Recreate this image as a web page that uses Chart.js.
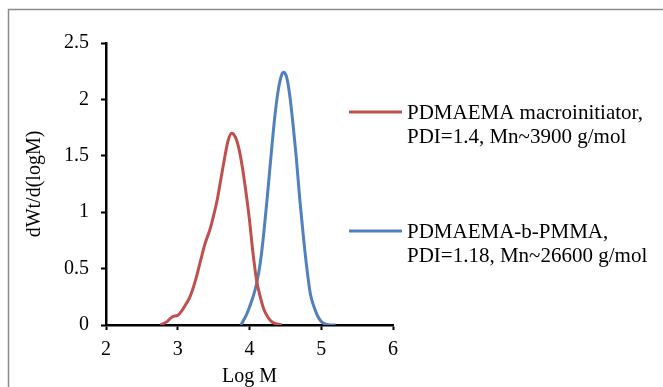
<!DOCTYPE html>
<html>
<head>
<meta charset="utf-8">
<script src="https://cdn.jsdelivr.net/npm/chart.js@4/dist/chart.umd.min.js"></script>
<style>
  html, body { margin: 0; padding: 0; background: #fff; }
  #wrap { position: relative; width: 663px; height: 387px; }
</style>
</head>
<body>
<div id="wrap"><canvas id="myChart" width="663" height="387"></canvas></div>
<script>
/* globals Chart:false */

// Data
var redLogM = [2.76, 2.85, 2.9, 2.93, 3.0, 3.05, 3.1, 3.17, 3.24, 3.31, 3.38, 3.45, 3.5, 3.55, 3.6, 3.65, 3.7, 3.75, 3.8, 3.85, 3.9, 3.95, 4.0, 4.05, 4.1, 4.15, 4.2, 4.25, 4.3, 4.35, 4.45];
var redVal = [0, 0.03, 0.06, 0.075, 0.085, 0.12, 0.17, 0.25, 0.38, 0.55, 0.72, 0.85, 0.97, 1.11, 1.29, 1.47, 1.63, 1.70, 1.67, 1.57, 1.40, 1.18, 0.93, 0.63, 0.39, 0.25, 0.14, 0.075, 0.035, 0.015, 0];
var blueLogM = [3.88, 3.95, 4.0, 4.05, 4.1, 4.15, 4.2, 4.25, 4.3, 4.35, 4.4, 4.45, 4.48, 4.52, 4.56, 4.6, 4.65, 4.7, 4.75, 4.8, 4.85, 4.9, 4.95, 5.0, 5.05, 5.1, 5.2];
var blueVal = [0, 0.08, 0.16, 0.25, 0.37, 0.55, 0.82, 1.15, 1.5, 1.83, 2.08, 2.22, 2.24, 2.19, 2.04, 1.82, 1.5, 1.12, 0.79, 0.5, 0.27, 0.16, 0.08, 0.03, 0.01, 0.003, 0];
var seriesLabels = [
  ['PDMAEMA macroinitiator,', 'PDI=1.4, Mn~3900 g/mol'],
  ['PDMAEMA-b-PMMA,', 'PDI=1.18, Mn~26600 g/mol']
];
var xTicks = [2, 3, 4, 5, 6];
var yTicks = [0, 0.5, 1, 1.5, 2, 2.5];

(function () {
  'use strict'

  var FONT = '"Liberation Serif", "Times New Roman", serif'

  function toPoints (xs, ys) {
    return xs.map(function (x, i) { return { x: x, y: ys[i] } })
  }

  // grey frame round the whole chart
  var framePlugin = {
    id: 'frame',
    beforeDraw: function (chart) {
      var c = chart.ctx
      c.save()
      c.fillStyle = '#fff'
      c.fillRect(0, 0, chart.width, chart.height)
      c.strokeStyle = '#8a8a8a'
      c.lineWidth = 1.5
      c.strokeRect(8.5, 9.5, chart.width + 20, chart.height + 20)
      c.restore()
    }
  }

  // two-line legend on the right, like the original
  var sideLegend = {
    id: 'sideLegend',
    afterDraw: function (chart) {
      var c = chart.ctx
      var rows = [112, 231]
      c.save()
      c.font = '21px ' + FONT
      c.textBaseline = 'middle'
      c.fillStyle = '#000'
      chart.data.datasets.forEach(function (ds, i) {
        var y = rows[i]
        c.strokeStyle = ds.borderColor
        c.lineWidth = 3
        c.beginPath()
        c.moveTo(349, y)
        c.lineTo(402, y)
        c.stroke()
        ds.label.forEach(function (line, j) {
          c.fillText(line, 407, y + 1 + j * 24)
        })
      })
      c.restore()
    }
  }

  var plainNum = function (v) { return String(v) }

  var ctx = document.getElementById('myChart')
  // eslint-disable-next-line no-unused-vars
  var myChart = new Chart(ctx, {
    type: 'scatter',
    data: {
      datasets: [{
        label: seriesLabels[0],
        data: toPoints(redLogM, redVal),
        borderColor: '#C0504D',
        borderWidth: 3,
        showLine: true,
        pointRadius: 0,
        cubicInterpolationMode: 'monotone'
      }, {
        label: seriesLabels[1],
        data: toPoints(blueLogM, blueVal),
        borderColor: '#4F81BD',
        borderWidth: 3,
        showLine: true,
        pointRadius: 0,
        cubicInterpolationMode: 'monotone'
      }]
    },
    options: {
      responsive: false,
      animation: false,
      layout: { padding: { top: 43, right: 270, left: 0, bottom: 0 } },
      plugins: {
        legend: { display: false },
        tooltip: { enabled: false }
      },
      scales: {
        x: {
          type: 'linear',
          min: 2,
          max: 6,
          afterFit: function (s) { s.height = 62 },
          afterBuildTicks: function (s) { s.ticks = xTicks.map(function (v) { return { value: v } }) },
          border: { color: '#000', width: 2.5 },
          grid: { drawOnChartArea: false, tickLength: 5, tickColor: '#000', tickWidth: 2 },
          ticks: { color: '#000', padding: 8, font: { family: FONT, size: 20 }, callback: plainNum },
          title: {
            display: true,
            text: 'Log M',
            color: '#000',
            padding: { top: -1, bottom: 0 },
            font: { family: FONT, size: 20, lineHeight: 1 }
          }
        },
        y: {
          min: 0,
          max: 2.5,
          afterFit: function (s) { s.width = 106 },
          afterBuildTicks: function (s) { s.ticks = yTicks.map(function (v) { return { value: v } }) },
          border: { color: '#000', width: 2.5 },
          grid: { drawOnChartArea: false, tickLength: 5, tickColor: '#000', tickWidth: 2 },
          ticks: { color: '#000', padding: 12, font: { family: FONT, size: 20 }, callback: plainNum },
          title: {
            display: true,
            text: 'dWt/d(logM)',
            color: '#000',
            padding: { top: 25, bottom: 0 },
            font: { family: FONT, size: 20, lineHeight: 1 }
          }
        }
      }
    },
    plugins: [framePlugin, sideLegend]
  })
})()
</script>
</body>
</html>
